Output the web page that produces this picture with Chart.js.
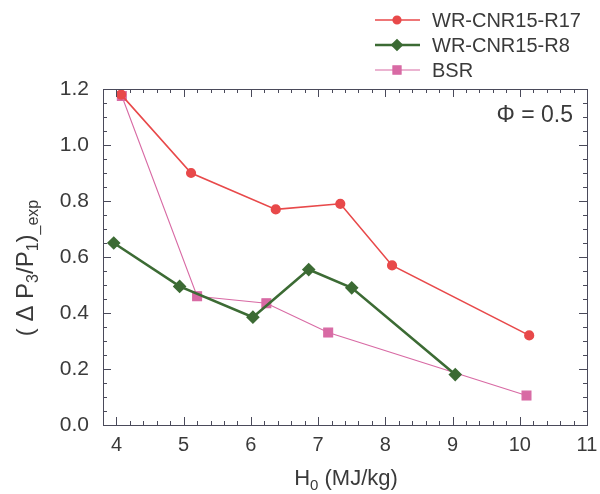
<!DOCTYPE html>
<html>
<head>
<meta charset="utf-8">
<script src="https://cdn.jsdelivr.net/npm/chart.js@4.4.1/dist/chart.umd.min.js"></script>
<style>
  html, body { margin: 0; padding: 0; background: #fff; }
  #wrap { width: 600px; height: 494px; }
</style>
</head>
<body>
<div id="wrap"><canvas id="chart" width="600" height="494"></canvas></div>
<script>
const seriesNames = ["WR-CNR15-R17", "WR-CNR15-R8", "BSR"];
const r17X = [4.07, 5.11, 6.37, 7.33, 8.10, 10.14];
const r17Y = [1.18, 0.90, 0.77, 0.79, 0.57, 0.32];
const r8X = [3.96, 4.94, 6.03, 6.86, 7.50, 9.04];
const r8Y = [0.65, 0.495, 0.385, 0.555, 0.49, 0.18];
const bsrX = [4.08, 5.20, 6.23, 7.15, 10.10];
const bsrY = [1.175, 0.46, 0.435, 0.33, 0.105];
const xTicks = [4, 5, 6, 7, 8, 9, 10, 11];
const yTicks = [0.0, 0.2, 0.4, 0.6, 0.8, 1.0, 1.2];

const FONT = "'Liberation Sans', Arial, sans-serif";
const TXT = "#3a3a3a";
const FRAME = "#4a4a5a";

function pts(xs, ys) {
  return xs.map((x, i) => ({ x: x, y: ys[i] }));
}

// frame, inward ticks, legend, titles
const decor = {
  id: "decor",
  afterDraw(chart) {
    const ctx = chart.ctx;
    const a = chart.chartArea;
    const xs = chart.scales.x, ys = chart.scales.y;
    ctx.save();
    ctx.strokeStyle = FRAME;
    ctx.lineWidth = 1;
    ctx.strokeRect(Math.round(a.left) + 0.5, Math.round(a.top) + 0.5, Math.round(a.right - a.left), Math.round(a.bottom - a.top));
    ctx.beginPath();
    for (let v = 3.8; v <= 11.001; v += 0.2) {
      const px = Math.round(xs.getPixelForValue(v)) + 0.5;
      const major = Math.abs(v - Math.round(v)) < 0.01;
      const len = major ? 8 : 4;
      ctx.moveTo(px, a.bottom); ctx.lineTo(px, a.bottom - len);
      ctx.moveTo(px, a.top); ctx.lineTo(px, a.top + len);
    }
    for (let v = 0; v <= 1.2001; v += 0.05) {
      const py = Math.round(ys.getPixelForValue(v)) + 0.5;
      const major = Math.abs(v * 5 - Math.round(v * 5)) < 0.01;
      const len = major ? 8 : 4;
      ctx.moveTo(a.left, py); ctx.lineTo(a.left + len, py);
      ctx.moveTo(a.right, py); ctx.lineTo(a.right - len, py);
    }
    ctx.stroke();

    // legend
    chart.data.datasets.forEach((ds, i) => {
      const y = 20 + i * 25;
      ctx.strokeStyle = ds.borderColor;
      ctx.lineWidth = ds.borderWidth;
      ctx.beginPath();
      ctx.moveTo(375, y); ctx.lineTo(420, y);
      ctx.stroke();
      ctx.fillStyle = ds.pointBackgroundColor;
      ctx.strokeStyle = ds.pointBackgroundColor;
      Chart.helpers.drawPoint(ctx, { pointStyle: ds.pointStyle, radius: ds.pointRadius - 0.5, borderWidth: 1 }, 397, y);
      ctx.fillStyle = TXT;
      ctx.font = "20px " + FONT;
      ctx.textBaseline = "middle";
      ctx.textAlign = "left";
      ctx.fillText(ds.label, 432, y + 1);
    });

    // phi note
    ctx.fillStyle = TXT;
    ctx.font = "23px " + FONT;
    ctx.textAlign = "right";
    ctx.textBaseline = "middle";
    ctx.fillText("\u03A6 = 0.5", 573, 116);

    // x title
    ctx.textAlign = "left";
    ctx.textBaseline = "alphabetic";
    const xParts = [["H", 22, 0], ["0", 15, 5], [" (MJ/kg)", 22, 0]];
    drawParts(ctx, xParts, 346, 485, true);

    // y title (rotated)
    ctx.translate(33, 268);
    ctx.rotate(-Math.PI / 2);
    const yParts = [["( \u0394 P", 24, 0], ["3", 16, 5], ["/P", 24, 0], ["1", 16, 5], [")", 24, 0], ["_exp", 16, 5]];
    drawParts(ctx, yParts, 0, 0, true);
    ctx.restore();
  }
};

function drawParts(ctx, parts, cx, baseY, center) {
  let w = 0;
  parts.forEach(p => { ctx.font = p[1] + "px " + FONT; w += ctx.measureText(p[0]).width; });
  let x = center ? cx - w / 2 : cx;
  ctx.fillStyle = TXT;
  parts.forEach(p => {
    ctx.font = p[1] + "px " + FONT;
    ctx.fillText(p[0], x, baseY + p[2]);
    x += ctx.measureText(p[0]).width;
  });
}

new Chart(document.getElementById("chart"), {
  type: "scatter",
  data: {
    datasets: [
      {
        label: seriesNames[0],
        data: pts(r17X, r17Y),
        showLine: true,
        borderColor: "#e8494a",
        borderWidth: 1.6,
        pointStyle: "circle",
        pointRadius: 4.3,
        pointBackgroundColor: "#e8494a",
        pointBorderColor: "#e8494a"
      },
      {
        label: seriesNames[1],
        data: pts(r8X, r8Y),
        showLine: true,
        borderColor: "#3c6b34",
        borderWidth: 2.6,
        pointStyle: "rectRot",
        pointRadius: 5,
        pointBackgroundColor: "#3c6b34",
        pointBorderColor: "#3c6b34"
      },
      {
        label: seriesNames[2],
        data: pts(bsrX, bsrY),
        showLine: true,
        borderColor: "#d86aa4",
        borderWidth: 1.1,
        pointStyle: "rect",
        pointRadius: 6.3,
        pointBackgroundColor: "#d86aa4",
        pointBorderColor: "#d86aa4"
      }
    ]
  },
  options: {
    responsive: false,
    animation: false,
    layout: { padding: { top: 89, right: 13, left: 0, bottom: 0 } },
    plugins: { legend: { display: false }, tooltip: { enabled: false } },
    scales: {
      x: {
        type: "linear",
        min: 3.8,
        max: 11,
        afterBuildTicks: s => { s.ticks = xTicks.map(v => ({ value: v })); },
        afterFit: s => { s.height = 69; s.paddingLeft = 0; s.paddingRight = 0; },
        grid: { display: false, drawTicks: false },
        border: { display: false },
        ticks: { color: TXT, font: { family: FONT, size: 20 }, padding: 8, maxRotation: 0 }
      },
      y: {
        type: "linear",
        min: 0,
        max: 1.2,
        afterBuildTicks: s => { s.ticks = yTicks.map(v => ({ value: v })); },
        afterFit: s => { s.width = 103; s.paddingTop = 0; s.paddingBottom = 0; },
        grid: { display: false, drawTicks: false },
        border: { display: false },
        ticks: { color: TXT, font: { family: FONT, size: 21 }, padding: 14, callback: v => v.toFixed(1) }
      }
    }
  },
  plugins: [decor]
});
</script>
</body>
</html>
